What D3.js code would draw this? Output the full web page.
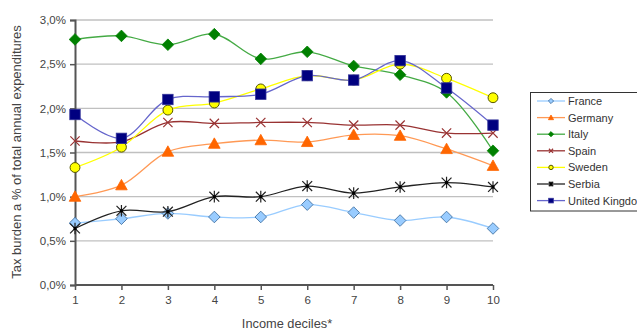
<!DOCTYPE html>
<html><head><meta charset="utf-8">
<script src="https://cdn.jsdelivr.net/npm/d3@7"></script>
<style>body{margin:0;background:#fff;}svg{display:block;font-family:"Liberation Sans",Arial,sans-serif;}</style>
</head><body>
<script>
const deciles = [1,2,3,4,5,6,7,8,9,10];
const yTicks = [0,0.5,1.0,1.5,2.0,2.5,3.0];
const seriesNames = ["France","Germany","Italy","Spain","Sweden","Serbia","United Kingdom"];
const france  = [0.70,0.75,0.81,0.77,0.77,0.91,0.82,0.73,0.77,0.64];
const germany = [1.00,1.13,1.51,1.60,1.64,1.62,1.70,1.69,1.54,1.35];
const italy   = [2.78,2.82,2.72,2.84,2.56,2.64,2.48,2.38,2.18,1.52];
const spain   = [1.63,1.62,1.84,1.83,1.84,1.84,1.81,1.81,1.72,1.72];
const sweden  = [1.33,1.56,1.98,2.06,2.22,2.37,2.32,2.50,2.34,2.12];
const serbia  = [0.64,0.84,0.83,1.00,1.00,1.12,1.04,1.11,1.16,1.11];
const uk      = [1.93,1.66,2.10,2.13,2.16,2.37,2.32,2.54,2.23,1.81];
const seriesValues = [france,germany,italy,spain,sweden,serbia,uk];

const styles = {
  "France":{line:"#99ccff",fill:"#99ccff",stroke:"#336699",shape:"diamond"},
  "Germany":{line:"#ff9955",fill:"#ff6600",stroke:"#ff6600",shape:"triangle"},
  "Italy":{line:"#44aa44",fill:"#008000",stroke:"#008000",shape:"diamond"},
  "Spain":{line:"#993333",fill:"none",stroke:"#993333",shape:"x"},
  "Sweden":{line:"#ffff00",fill:"#ffff00",stroke:"#555500",shape:"circle"},
  "Serbia":{line:"#222222",fill:"#000",stroke:"#222222",shape:"star"},
  "United Kingdom":{line:"#6666cc",fill:"#000080",stroke:"#333399",shape:"square"}
};

const W=637,H=331;
const svg=d3.select("body").append("svg").attr("width",W).attr("height",H);
const x=d3.scaleLinear().domain([1,10]).range([75,493]);
const y=d3.scaleLinear().domain([0,3]).range([285,20]);

// grid
svg.append("g").selectAll("line").data(yTicks.filter(d=>d>0)).join("line")
  .attr("x1",75).attr("x2",493).attr("y1",d=>y(d)).attr("y2",d=>y(d))
  .attr("stroke","#c0c0c0").attr("stroke-width",1.3);

// axes
const yAxis=svg.append("g").attr("transform","translate(75,0)")
  .call(d3.axisLeft(y).tickValues(yTicks).tickSize(5).tickPadding(4)
    .tickFormat(d=>d.toFixed(1).replace(".",",")+"%"));
const xAxis=svg.append("g").attr("transform","translate(0,285)")
  .call(d3.axisBottom(x).tickValues(deciles).tickSize(5).tickPadding(6).tickFormat(d=>d));
[yAxis,xAxis].forEach(a=>{
  a.select(".domain").attr("stroke","#555").attr("stroke-width",2);
  a.selectAll(".tick line").attr("stroke","#555").attr("stroke-width",1.5);
  a.selectAll("text").attr("fill","#444").attr("font-size",11.5).attr("font-family","Liberation Sans, Arial, sans-serif");
});
xAxis.select(".domain").attr("d","M75,0H493");

// titles
svg.append("text").attr("x",287).attr("y",328).attr("text-anchor","middle")
  .attr("font-size",12.8).attr("fill","#444").text("Income deciles*");
svg.append("text").attr("transform","translate(21,152) rotate(-90)").attr("text-anchor","middle")
  .attr("font-size",13).attr("fill","#444").text("Tax burden a % of total annual expenditures");

function marker(g,shape,st,s){
  if(shape==="diamond"){
    g.append("path").attr("d",`M0,${-s}L${s},0L0,${s}L${-s},0Z`).attr("fill",st.fill).attr("stroke",st.stroke).attr("stroke-width",0.8);
  } else if(shape==="triangle"){
    g.append("path").attr("d",`M0,${-s}L${s},${s*0.8}L${-s},${s*0.8}Z`).attr("fill",st.fill).attr("stroke",st.stroke).attr("stroke-width",0.8);
  } else if(shape==="square"){
    g.append("rect").attr("x",-s*0.9).attr("y",-s*0.9).attr("width",s*1.8).attr("height",s*1.8).attr("fill",st.fill).attr("stroke",st.stroke).attr("stroke-width",0.8);
  } else if(shape==="circle"){
    g.append("circle").attr("r",s*0.85).attr("fill",st.fill).attr("stroke",st.stroke).attr("stroke-width",1);
  } else if(shape==="x"){
    const k=s*0.8;
    g.append("path").attr("d",`M${-k},${-k}L${k},${k}M${-k},${k}L${k},${-k}`).attr("stroke",st.stroke).attr("stroke-width",1.2);
  } else if(shape==="star"){
    const k=s*0.85;
    g.append("path").attr("d",`M${-k},${-k}L${k},${k}M${-k},${k}L${k},${-k}M0,${-s}L0,${s}`).attr("stroke",st.stroke).attr("stroke-width",1.2);
    g.append("rect").attr("x",-1.5).attr("y",-1.5).attr("width",3).attr("height",3).attr("fill","#000");
  }
}

const line=d3.line().x((d,i)=>x(deciles[i])).y(d=>y(d)).curve(d3.curveCatmullRom.alpha(0.5));
seriesNames.forEach((name,si)=>{
  const st=styles[name];
  const g=svg.append("g");
  g.append("path").attr("d",line(seriesValues[si])).attr("fill","none").attr("stroke",st.line).attr("stroke-width",1.3);
  seriesValues[si].forEach((v,i)=>{
    const mg=g.append("g").attr("transform",`translate(${x(deciles[i])},${y(v)})`);
    marker(mg,st.shape,st,5.8);
  });
});

// legend
const lg=svg.append("g");
lg.append("rect").attr("x",530.5).attr("y",92.5).attr("width",120).attr("height",118.5)
  .attr("fill","#fff").attr("stroke","#333").attr("stroke-width",1);
seriesNames.forEach((name,i)=>{
  const st=styles[name];
  const yy=101+i*16.6;
  lg.append("line").attr("x1",537).attr("x2",565).attr("y1",yy).attr("y2",yy).attr("stroke",st.line).attr("stroke-width",1.3);
  const mg=lg.append("g").attr("transform",`translate(551,${yy})`);
  marker(mg,st.shape,st,2.6);
  lg.append("text").attr("x",568).attr("y",yy+4).attr("font-size",11).attr("fill","#333").text(name);
});
</script>
</body></html>
